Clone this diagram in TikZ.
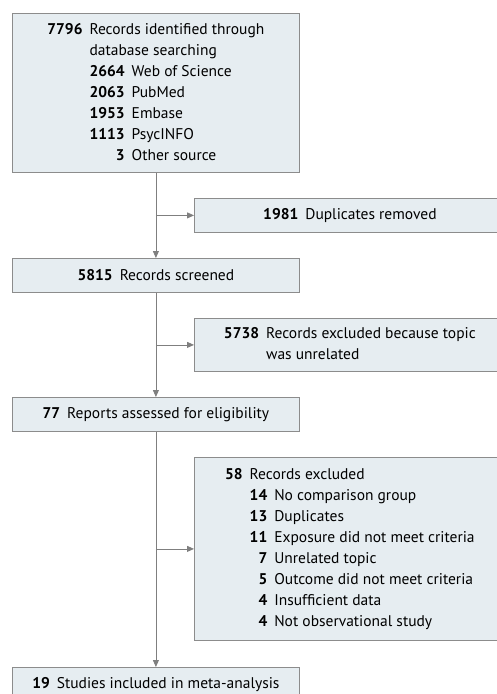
\documentclass[tikz,border=0pt]{standalone}
\usepackage{fontspec}
\setmainfont{PT Sans}
\usetikzlibrary{arrows.meta}
\definecolor{boxfill}{HTML}{E6EDF1}
\definecolor{boxline}{HTML}{8C8C8C}
\definecolor{flowline}{HTML}{7F7F7F}
\newcommand{\cnt}[1]{\textbf{#1}}

\begin{document}
\begin{tikzpicture}[x=1pt, y=-1pt,
   box/.style={draw=boxline, fill=boxfill, line width=0.8pt, inner sep=0pt,
     anchor=north west, font=\fontsize{15.5}{21}\selectfont},
   leftbox/.style={box, minimum width=287pt},
   sidebox/.style={box, minimum width=311pt},
   flow/.style={->, draw=flowline, line width=0.8pt},
   >={Triangle[length=7pt,width=6pt]}]
\useasboundingbox (0,0) rectangle (497,694);

\node[leftbox, minimum height=159pt] (ident) at (12, 13) {%
  \begin{tabular}{@{}r@{\hspace{7pt}}r@{\hspace{7pt}}l@{}}
  \cnt{7796} & \multicolumn{2}{@{}l@{}}{Records identified through}\\
   & \multicolumn{2}{@{}l@{}}{database searching}\\
   & \cnt{2664} & Web of Science\\
   & \cnt{2063} & PubMed\\
   & \cnt{1953} & Embase\\
   & \cnt{1113} & PsycINFO\\
   & \cnt{3} & Other source
  \end{tabular}};
\node[sidebox, minimum height=34pt] (dup) at (194, 198) {\cnt{1981}\hspace{7pt}Duplicates removed};
\node[leftbox, minimum height=34pt] (screen) at (12, 258) {\cnt{5815}\hspace{7pt}Records screened};
\node[sidebox, minimum height=53pt] (topic) at (194, 318) {%
  \begin{tabular}{@{}r@{\hspace{7pt}}l@{}}
  \cnt{5738} & Records excluded because topic\\
   & was unrelated
  \end{tabular}};
\node[leftbox, minimum height=34pt] (elig) at (12, 397) {\cnt{77}\hspace{7pt}Reports assessed for eligibility};
\node[sidebox, minimum height=183pt] (excl) at (194, 457) {%
  \begin{tabular}{@{}r@{\hspace{7pt}}r@{\hspace{7pt}}l@{}}
  \cnt{58} & \multicolumn{2}{@{}l@{}}{Records excluded}\\
   & \cnt{14} & No comparison group\\
   & \cnt{13} & Duplicates\\
   & \cnt{11} & Exposure did not meet criteria\\
   & \cnt{7} & Unrelated topic\\
   & \cnt{5} & Outcome did not meet criteria\\
   & \cnt{4} & Insufficient data\\
   & \cnt{4} & Not observational study
  \end{tabular}};
\node[leftbox, minimum height=34pt] (incl) at (12, 667) {\cnt{19}\hspace{7pt}Studies included in meta-analysis};

\draw[flow] (ident) -- (screen);
\draw[flow] (ident.south |- dup.west) -- (dup.west);
\draw[flow] (screen) -- (elig);
\draw[flow] (screen.south |- topic.west) -- (topic.west);
\draw[flow] (elig) -- (incl);
\draw[flow] (elig.south |- excl.west) -- (excl.west);

\end{tikzpicture}
\end{document}
